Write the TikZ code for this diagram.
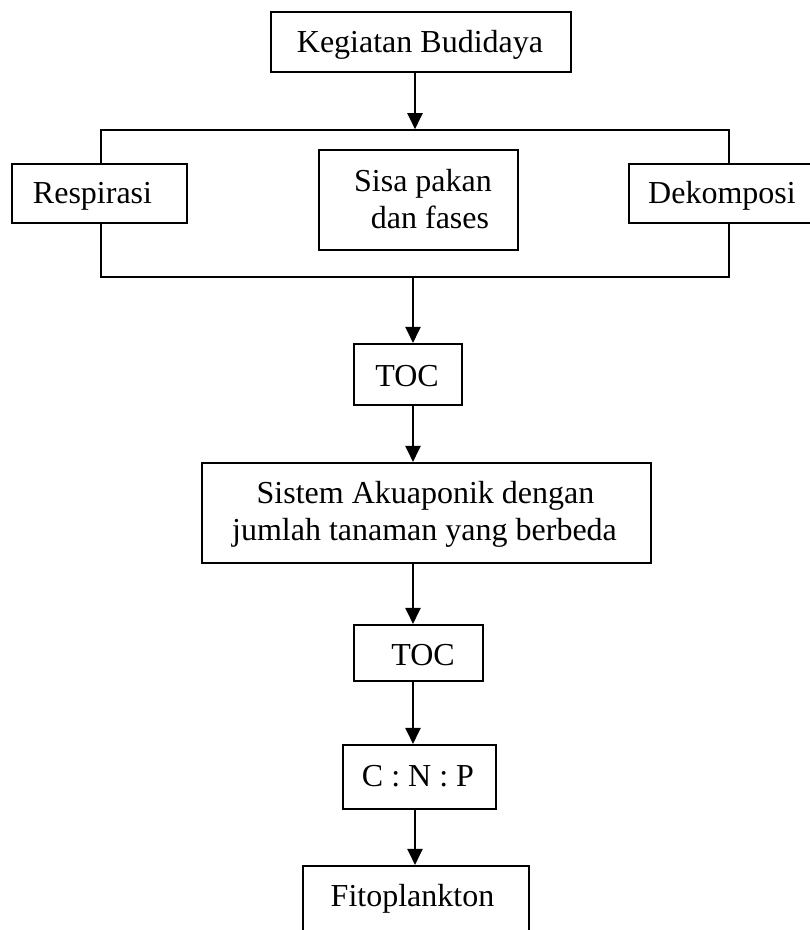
\documentclass[tikz,border=0pt]{standalone}
\usepackage{fontspec}
\setmainfont{Liberation Serif}
\usetikzlibrary{arrows.meta}
\begin{document}
\begin{tikzpicture}[x=1pt,y=-1pt,
  box/.style={draw, line width=2.1pt, fill=white, inner sep=0pt, rectangle},
  frm/.style={draw, line width=1.6pt, inner sep=0pt, rectangle},
  lbl/.style={anchor=base, inner sep=0pt, font=\fontsize{32}{37}\selectfont},
  arr/.style={line width=2.1pt, -{Triangle[length=16pt,width=15pt]}}]
\useasboundingbox (0,0) rectangle (810,930);
\coordinate (spine) at (413,0);
% boxes
\node[box, minimum width=300pt, minimum height=60pt] (keg) at (421,42) {};
\node[frm, minimum width=628pt, minimum height=147pt] (frame) at (415,203.5) {};
\node[box, minimum width=175pt, minimum height=59pt] (resp) at (99.5,193.5) {};
\node[box, minimum width=199pt, minimum height=100pt] (sisa) at (418.5,200) {};
\node[box, minimum width=183pt, minimum height=59pt] (dek) at (720.5,193.5) {};
\node[box, minimum width=108pt, minimum height=61pt] (toc1) at (408,374.5) {};
\node[box, minimum width=449pt, minimum height=100pt] (sis) at (426.5,513) {};
\node[box, minimum width=129pt, minimum height=56pt] (toc2) at (418.5,653) {};
\node[box, minimum width=153pt, minimum height=64pt] (cnp) at (419.5,777) {};
\node[box, minimum width=226pt, minimum height=68pt] (fito) at (416,900) {};
% texts
\node[lbl] (kegT) at (420,52.7) {Kegiatan Budidaya};
\node[lbl] (respT) at (92.5,203.5) {Respirasi};
\node[lbl] (sisaA) at (423,191) {Sisa pakan};
\node[lbl] (sisaB) at (430,228) {dan fases};
\node[lbl] (dekT) at (722,203.5) {Dekomposi};
\node[lbl] (toc1T) at (407,386) {TOC};
\node[lbl] (sisA) at (425.5,503) {Sistem Akuaponik dengan};
\node[lbl] (sisB) at (424.5,540) {jumlah tanaman yang berbeda};
\node[lbl] (toc2T) at (423,665) {TOC};
\node[lbl] (cnpT) at (418,786) {C : N : P};
\node[lbl] (fitoT) at (412.5,906) {Fitoplankton};
% connectors
\draw[arr] (keg.south -| frame.north) -- (frame.north);
\draw[arr] (frame.south -| spine) -- (toc1.north -| spine);
\draw[arr] (toc1.south -| spine) -- (sis.north -| spine);
\draw[arr] (sis.south -| spine) -- (toc2.north -| spine);
\draw[arr] (toc2.south -| spine) -- (cnp.north -| spine);
\draw[arr] (cnp.south -| frame.north) -- (fito.north -| frame.north);
\end{tikzpicture}
\end{document}
